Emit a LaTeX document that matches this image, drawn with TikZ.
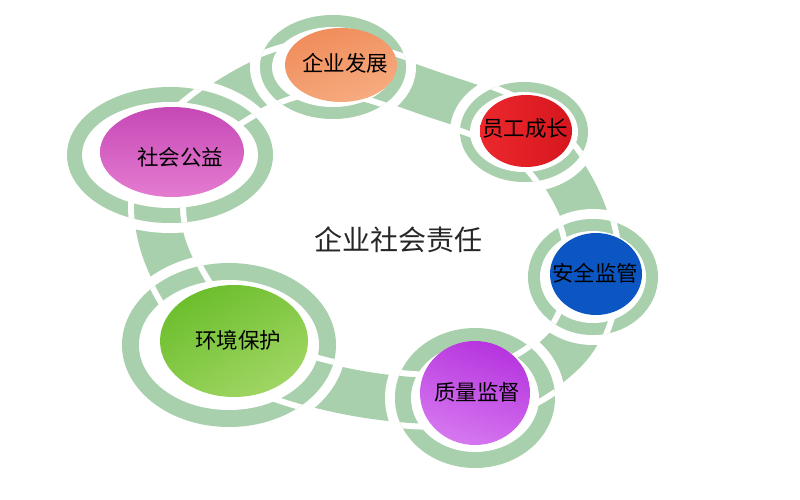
\documentclass[tikz,border=0pt]{standalone}
\usepackage{fontspec}
\setmainfont{Noto Sans CJK SC}
\usetikzlibrary{shapes.geometric}
\definecolor{bandg}{RGB}{168,208,172}
\definecolor{org1}{RGB}{240,140,90}
\definecolor{org2}{RGB}{246,172,128}
\definecolor{red1}{RGB}{236,40,44}
\definecolor{red2}{RGB}{214,22,30}
\definecolor{blu1}{RGB}{12,86,196}
\definecolor{pur1}{RGB}{182,52,222}
\definecolor{pur2}{RGB}{214,120,240}
\definecolor{grn1}{RGB}{108,190,44}
\definecolor{grn2}{RGB}{160,214,100}
\definecolor{pnk1}{RGB}{198,72,182}
\definecolor{pnk2}{RGB}{228,124,208}
\tikzset{
  band/.style={draw=bandg, line width=46pt},
  bandedge/.style={draw=white, line width=58pt},
  gap/.style={fill=white},
  blob/.style={ellipse, inner sep=0pt, draw=none},
  lbl/.style={font=\fontsize{21.5}{24}\selectfont, text=black, inner sep=0pt},
  title/.style={font=\fontsize{28}{32}\selectfont, text=black!85, inner sep=0pt}
}
\newcommand\bandcurve{plot[smooth cycle, tension=0.6] coordinates {(r1) (m12) (r2) (m23) (r3) (m34) (r4) (m45) (r5) (m56) (r6) (m61)}}
% #1 centre, #2 outer x radius, #3 outer y radius, #4 ring thickness
\newcommand\ringunit[4]{%
  \fill[gap] (#1) ellipse [x radius=#2+10, y radius=#3+10];
  \fill[bandg] (#1) ellipse [x radius=#2, y radius=#3];
  \begin{scope}
    \clip (#1) ellipse [x radius=#2, y radius=#3];
    \draw[bandedge] \bandcurve;
    \draw[band] \bandcurve;
  \end{scope}
  \fill[gap] (#1) ellipse [x radius=#2-#4, y radius=#3-#4];
}
\begin{document}
\begin{tikzpicture}[x=1pt,y=-1pt]
\useasboundingbox (0,0) rectangle (800,500);
\fill[white] (0,0) rectangle (800,500);
% ring centres
\coordinate (r1) at (333,67);
\coordinate (r2) at (524,132);
\coordinate (r3) at (593,277);
\coordinate (r4) at (475,398);
\coordinate (r5) at (229,345);
\coordinate (r6) at (170,155);
% band mid points
\coordinate (m12) at (432,94);
\coordinate (m23) at (578,200);
\coordinate (m34) at (565,350);
\coordinate (m45) at (340,390);
\coordinate (m56) at (163,245);
\coordinate (m61) at (250,88);
\draw[band] \bandcurve;
% node 1
\ringunit{r1}{73}{52}{12}
\node[blob, minimum width=112pt, minimum height=74pt, top color=org1, bottom color=org2, shading angle=20] (n1) at (341,65) {};
\node[lbl] (t1) at (345,63) {企业发展};
% node 2
\ringunit{r2}{64}{50}{10}
\node[blob, minimum width=92pt, minimum height=72pt, left color=red1, right color=red2] (n2) at (526,131) {};
\node[lbl] (t2) at (525,128) {员工成长};
% node 3
\ringunit{r3}{65}{58}{12}
\node[blob, minimum width=92pt, minimum height=82pt, fill=blu1] (n3) at (596,274) {};
\node[lbl] (t3) at (595,273) {安全监管};
% node 4
\ringunit{r4}{80}{70}{16}
\node[blob, minimum width=110pt, minimum height=104pt, top color=pur1, bottom color=pur2, shading angle=-20] (n4) at (475,393) {};
\node[lbl] (t4) at (477,392) {质量监督};
% node 5
\ringunit{r5}{107}{82}{17}
\node[blob, minimum width=148pt, minimum height=112pt, top color=grn1, bottom color=grn2, shading angle=30] (n5) at (234,341) {};
\node[lbl] (t5) at (238,340) {环境保护};
% node 6
\ringunit{r6}{103}{68}{15}
\node[blob, minimum width=144pt, minimum height=90pt, top color=pnk1, bottom color=pnk2] (n6) at (172,152) {};
\node[lbl] (t6) at (180,157) {社会公益};
% title
\node[title] (ttl) at (398,240) {企业社会责任};
\end{tikzpicture}
\end{document}
